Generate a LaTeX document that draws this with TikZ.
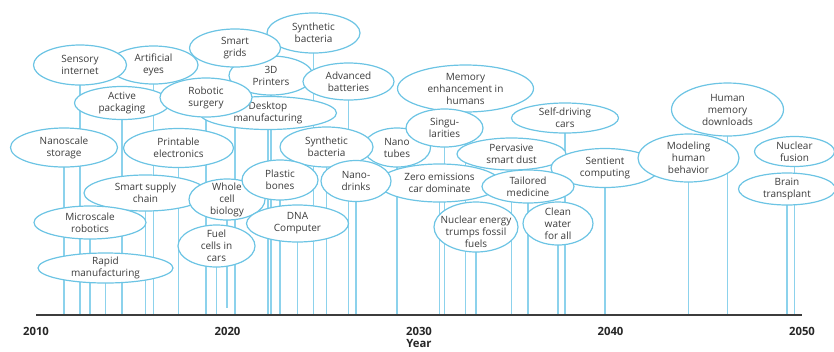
\documentclass[tikz,border=0pt]{standalone}
\usepackage{fontspec}
\setmainfont{Open Sans}
\usetikzlibrary{shapes.geometric,backgrounds}

\definecolor{ideaedge}{RGB}{108,196,228}
\definecolor{yearblue}{RGB}{140,210,236}
\definecolor{txtgray}{RGB}{60,60,60}
\definecolor{axisgray}{RGB}{60,60,60}

\tikzset{
  idea/.style 2 args={ellipse, draw=ideaedge, fill=white, line width=0.9pt,
    inner sep=0pt, outer sep=0pt, minimum width=#1*0.75pt, minimum height=#2*0.75pt},
  txt/.style={font=\fontsize{7.5}{9}\selectfont, text=txtgray, align=center, inner sep=0pt},
  yearline/.style={draw=yearblue, line width=1.1pt},
  axisline/.style={draw=axisgray, line width=1.2pt},
  yr/.style={font=\fontsize{8.5}{10}\selectfont\bfseries, text=black!85, inner sep=0pt}
}

\begin{document}
\begin{tikzpicture}[x=0.75pt,y=0.75pt,yscale=-1,xscale=1]
\useasboundingbox (0,0) rectangle (834,351);

% Axis
\coordinate (axisl) at (36,315);
\coordinate (axisr) at (802,315);
\coordinate (cellend) at (227,308);
\draw [axisline] (axisl) -- (axisr);

% Year labels
\node [yr] (y2010) at (36,331) {2010};
\node [yr] (y2020) at (227.5,331) {2020};
\node [yr] (y2030) at (419,331) {2030};
\node [yr] (y2040) at (610.5,331) {2040};
\node [yr] (y2050) at (802,331) {2050};
\node [yr, anchor=north] (ylabel) at (419,339.5) {Year};

% Ellipses, back to front
\node [idea={89}{38}] (eyes) at (153.5,65) {};
\node [txt] (eyes-t) at (eyes) {Artificial\\eyes};
\node [idea={93}{40}] (sensory) at (80,65) {};
\node [txt] (sensory-t) at (sensory) {Sensory\\internet};
\node [idea={84}{39}] (printers) at (271,75.5) {};
\node [txt] (printers-t) at (printers) {3D\\Printers};
\node [idea={91}{37}] (batteries) at (348.5,81.5) {};
\node [txt] (batteries-t) at (batteries) {Advanced\\batteries};
\node [idea={93}{40}] (bacteriaA) at (313.5,33) {};
\node [txt] (bacteriaA-t) at (bacteriaA) {Synthetic\\bacteria};
\node [idea={91}{38}] (grids) at (235,48) {};
\node [txt] (grids-t) at (grids) {Smart\\grids};
\node [idea={137}{33}] (desktop) at (268,113) {};
\node [txt] (desktop-t) at (desktop) {Desktop\\manufacturing};
\node [idea={95}{33}] (packaging) at (122,103) {};
\node [txt] (packaging-t) at (packaging) {Active\\packaging};
\node [idea={92}{39}] (surgery) at (206,97.5) {};
\node [txt] (surgery-t) at (surgery) {Robotic\\surgery};
\node [idea={107}{39}] (storage) at (64,147.5) {};
\node [txt] (storage-t) at (storage) {Nanoscale\\storage};
\node [idea={110}{39}] (printable) at (178.5,148) {};
\node [txt] (printable-t) at (printable) {Printable\\electronics};
\node [idea={67}{39}] (tubes) at (397,147.5) {};
\node [txt] (tubes-t) at (tubes) {Nano\\tubes};
\node [idea={93}{40}] (bacteriaB) at (326.5,147) {};
\node [txt] (bacteriaB-t) at (bacteriaB) {Synthetic\\bacteria};
\node [idea={136}{47}] (memory) at (465.5,88.5) {};
\node [txt] (memory-t) at (memory) {Memory\\enhancement in\\humans};
\node [idea={77}{38}] (singular) at (444.5,128) {};
\node [txt] (singular-t) at (singular) {Singu-\\larities};
\node [idea={107}{30}] (selfdrive) at (565,118) {};
\node [txt] (selfdrive-t) at (selfdrive) {Self-driving\\cars};
\node [idea={109}{32}] (dust) at (511.5,154) {};
\node [txt] (dust-t) at (dust) {Pervasive\\smart dust};
\node [idea={108}{39}] (sentient) at (605,168) {};
\node [txt] (sentient-t) at (sentient) {Sentient\\computing};
\node [idea={112}{53}] (downloads) at (727.5,109.5) {};
\node [txt] (downloads-t) at (downloads) {Human\\memory\\downloads};
\node [idea={101}{48}] (modeling) at (688.5,158) {};
\node [txt] (modeling-t) at (modeling) {Modeling\\human\\behavior};
\node [idea={80}{30}] (fusion) at (794.5,151.5) {};
\node [txt] (fusion-t) at (fusion) {Nuclear\\fusion};
\node [idea={97}{32}] (brain) at (787,189) {};
\node [txt] (brain-t) at (brain) {Brain\\transplant};
\node [idea={123}{36}] (supply) at (145.5,193) {};
\node [txt] (supply-t) at (supply) {Smart supply\\chain};
\node [idea={76}{41}] (cell) at (227,199.5) {};
\node [txt] (cell-t) at (cell) {Whole\\cell\\biology};
\node [idea={76}{40}] (bones) at (280,180) {};
\node [txt] (bones-t) at (bones) {Plastic\\bones};
\node [idea={102}{37}] (dna) at (297.5,223.5) {};
\node [txt] (dna-t) at (dna) {DNA\\Computer};
\node [idea={77}{42}] (fuel) at (216.5,246) {};
\node [txt] (fuel-t) at (fuel) {Fuel\\cells in\\cars};
\node [idea={112}{33}] (robotics) at (90,222.5) {};
\node [txt] (robotics-t) at (robotics) {Microscale\\robotics};
\node [idea={135}{30}] (rapid) at (105.5,268) {};
\node [txt] (rapid-t) at (rapid) {Rapid\\manufacturing};
\node [idea={122}{38}] (zero) at (439.5,183) {};
\node [txt] (zero-t) at (zero) {Zero emissions\\car dominate};
\node [idea={70}{41}] (drinks) at (356,181) {};
\node [txt] (drinks-t) at (drinks) {Nano-\\drinks};
\node [idea={92}{33}] (medicine) at (528,186.5) {};
\node [txt] (medicine-t) at (medicine) {Tailored\\medicine};
\node [idea={84}{50}] (energy) at (476,227) {};
\node [txt] (energy-t) at (476,232) {Nuclear energy\\trumps fossil\\fuels};
\node [idea={70}{43}] (water) at (558,223.5) {};
\node [txt] (water-t) at (water) {Clean\\water\\for all};

% Year lines behind the ellipses
\begin{scope}[on background layer]
\foreach \n in {storage,sensory,robotics,rapid,packaging,supply,eyes,printable,
    surgery,fuel,grids,desktop,printers,bones,dna,bacteriaA,bacteriaB,batteries,
    drinks,tubes,zero,singular,memory,energy,dust,medicine,water,selfdrive,
    sentient,modeling,downloads,brain,fusion}
  \draw [yearline] (\n) -- (\n |- axisl);
\draw [yearline] (cell) -- (cellend);
\end{scope}

\end{tikzpicture}
\end{document}
